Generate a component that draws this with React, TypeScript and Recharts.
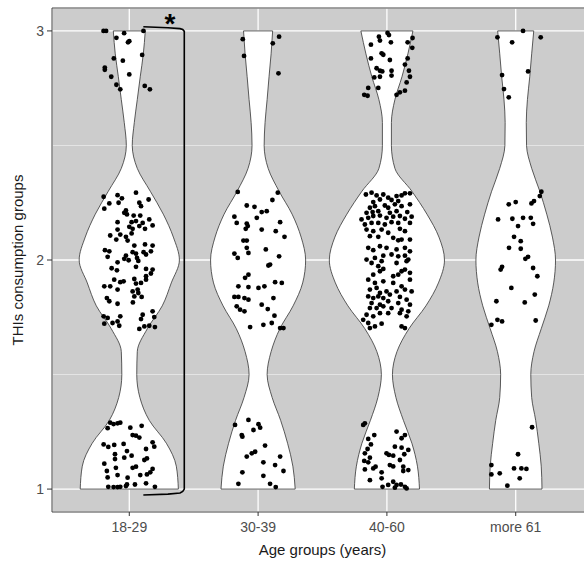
import React from 'react';
import {
  ComposedChart,
  Area,
  Scatter,
  XAxis,
  YAxis,
  CartesianGrid,
  ReferenceLine,
  ReferenceDot,
} from 'recharts';

const FONT = '"Liberation Sans", Arial, sans-serif';

// age groups on the x axis (positions 1..4)
const groups = ['18-29', '30-39', '40-60', 'more 61'];
const yTicks = [1, 2, 3];
const yMinor = [1.5, 2.5];

// y levels where the violin half-widths were read (x-axis units)
const levels = [1.0, 1.1, 1.2, 1.3, 1.4, 1.5, 1.6, 1.7, 1.8, 1.9, 2.0, 2.1, 2.2, 2.3, 2.4, 2.5, 2.6, 2.7, 2.8, 2.9, 3.0];
const width1829 = [0.381, 0.365, 0.288, 0.155, 0.082, 0.058, 0.062, 0.14, 0.256, 0.326, 0.389, 0.342, 0.264, 0.163, 0.062, 0.023, 0.039, 0.062, 0.085, 0.109, 0.124];
const width3039 = [0.288, 0.27, 0.229, 0.175, 0.109, 0.07, 0.101, 0.169, 0.272, 0.346, 0.369, 0.334, 0.264, 0.163, 0.078, 0.047, 0.054, 0.07, 0.085, 0.101, 0.113];
const width4060 = [0.253, 0.237, 0.194, 0.128, 0.07, 0.043, 0.078, 0.171, 0.303, 0.4, 0.447, 0.404, 0.311, 0.194, 0.062, 0.035, 0.035, 0.062, 0.117, 0.163, 0.202];
const width61 = [0.204, 0.198, 0.179, 0.155, 0.124, 0.117, 0.142, 0.198, 0.256, 0.295, 0.309, 0.285, 0.241, 0.187, 0.124, 0.084, 0.082, 0.091, 0.109, 0.124, 0.14];

// jittered observations: [x offset from group centre, THIs group value]
const obs1829 = [
  [-0.2, 3.0], [-0.18, 3.0], [-0.1, 2.97], [-0.04, 2.99], [0.11, 3.0], [-0.01, 2.95], [0.0, 2.955], [0.1, 2.895], [-0.12, 2.88],
  [-0.05, 2.87], [-0.19, 2.84], [-0.19, 2.83], [-0.14, 2.8], [0.0, 2.81], [-0.1, 2.765], [-0.07, 2.745], [0.12, 2.76], [0.16, 2.745],
  [0.052, 2.294], [-0.091, 2.283], [-0.057, 2.269], [-0.199, 2.276], [0.15, 2.264], [-0.155, 2.247], [-0.083, 2.25], [0.078, 2.25],
  [0.091, 2.235], [-0.194, 2.224], [-0.026, 2.216], [-0.039, 2.206], [-0.018, 2.199], [0.034, 2.194], [0.085, 2.194], [-0.091, 2.165],
  [0.018, 2.165], [0.052, 2.17], [0.104, 2.162], [0.155, 2.177], [0.078, 2.148], [0.122, 2.136], [0.181, 2.151], [-0.091, 2.133],
  [0.0, 2.145], [0.026, 2.136], [-0.148, 2.107], [-0.07, 2.111], [-0.101, 2.089], [-0.026, 2.101], [0.018, 2.116], [-0.013, 2.085],
  [0.122, 2.068], [0.181, 2.063], [0.039, 2.063], [-0.189, 2.043], [-0.155, 2.038], [0.168, 2.038], [0.111, 2.034], [0.13, 2.024],
  [-0.168, 2.014], [0.026, 2.034], [0.052, 2.028], [-0.026, 2.019], [-0.039, 2.005], [-0.005, 1.999], [0.06, 2.009], [0.07, 1.996],
  [-0.091, 1.99], [-0.137, 1.964], [-0.096, 1.955], [0.052, 1.97], [0.13, 1.961], [0.181, 1.958], [0.168, 1.941], [0.13, 1.929],
  [0.039, 1.917], [0.13, 1.914], [-0.117, 1.914], [-0.07, 1.903], [-0.044, 1.907], [-0.194, 1.885], [-0.148, 1.885], [-0.091, 1.871],
  [0.052, 1.897], [0.091, 1.9], [0.026, 1.863], [0.065, 1.871], [0.07, 1.856], [0.039, 1.841], [0.096, 1.839], [-0.174, 1.834],
  [-0.155, 1.82], [-0.091, 1.809], [0.028, 1.815], [-0.199, 1.754], [-0.168, 1.747], [-0.07, 1.754], [-0.091, 1.732], [-0.13, 1.725],
  [-0.194, 1.722], [-0.078, 1.713], [0.104, 1.761], [0.091, 1.742], [0.181, 1.776], [0.194, 1.751], [0.117, 1.71], [0.078, 1.699],
  [0.155, 1.713], [0.199, 1.707],
  [-0.148, 1.29], [-0.122, 1.284], [-0.091, 1.287], [-0.07, 1.29], [-0.168, 1.266], [0.008, 1.268], [0.096, 1.276], [0.026, 1.236],
  [0.052, 1.233], [0.078, 1.225], [-0.199, 1.195], [-0.163, 1.184], [-0.117, 1.193], [-0.044, 1.197], [0.181, 1.204], [0.194, 1.185],
  [-0.018, 1.166], [-0.111, 1.152], [-0.111, 1.131], [-0.039, 1.137], [0.018, 1.146], [0.13, 1.175], [0.117, 1.127], [0.137, 1.134],
  [-0.194, 1.111], [-0.104, 1.093], [0.026, 1.093], [0.052, 1.098], [0.181, 1.088], [0.163, 1.073], [-0.174, 1.079], [-0.091, 1.061],
  [-0.013, 1.05], [0.085, 1.061], [0.137, 1.064], [-0.168, 1.051], [0.13, 1.025], [-0.163, 1.01], [-0.122, 1.009], [-0.091, 1.009],
  [-0.07, 1.01], [-0.018, 1.02], [0.044, 1.02], [0.199, 1.01], [-0.026, 1.013],
];
const obs3039 = [
  [-0.119, 2.964], [0.163, 2.975], [0.114, 2.946], [-0.109, 2.891], [0.158, 2.815],
  [-0.158, 2.297], [0.153, 2.294], [0.111, 2.262], [-0.088, 2.238], [-0.028, 2.232], [0.067, 2.213], [0.028, 2.209], [-0.184, 2.189],
  [-0.01, 2.184], [-0.166, 2.162], [-0.088, 2.159], [-0.08, 2.148], [-0.096, 2.136], [0.171, 2.165], [0.028, 2.133], [0.137, 2.126],
  [0.205, 2.101], [-0.114, 2.085], [-0.088, 2.085], [-0.088, 2.053], [-0.075, 2.031], [0.06, 2.046], [-0.184, 2.028], [-0.158, 2.009],
  [0.163, 2.016], [0.08, 1.976], [0.093, 1.98], [-0.075, 1.936], [-0.101, 1.922], [-0.153, 1.885], [-0.075, 1.882], [0.003, 1.878],
  [0.049, 1.885], [0.132, 1.903], [0.184, 1.9], [-0.184, 1.839], [-0.153, 1.839], [-0.106, 1.834], [-0.075, 1.827], [-0.166, 1.798],
  [-0.14, 1.783], [-0.106, 1.776], [0.028, 1.805], [0.119, 1.834], [0.075, 1.786], [0.127, 1.757], [-0.062, 1.707], [0.041, 1.717],
  [0.106, 1.725], [0.171, 1.703], [0.197, 1.703],
  [-0.179, 1.28], [-0.075, 1.302], [0.003, 1.283], [0.016, 1.268], [-0.036, 1.258], [-0.127, 1.236], [-0.122, 1.229], [0.054, 1.19],
  [-0.023, 1.163], [-0.049, 1.156], [-0.088, 1.142], [0.171, 1.142], [0.132, 1.105], [0.041, 1.117], [0.197, 1.079], [-0.122, 1.073],
  [0.041, 1.058], [-0.153, 1.023], [0.093, 1.023], [0.137, 1.009],
];
const obs4060 = [
  [0.005, 2.991], [0.016, 2.982], [-0.062, 2.975], [-0.054, 2.958], [0.031, 2.95], [-0.124, 2.94], [0.161, 2.95], [0.199, 2.969],
  [0.197, 2.926], [-0.041, 2.902], [-0.028, 2.896], [-0.124, 2.88], [0.023, 2.873], [0.161, 2.88], [-0.08, 2.837], [-0.054, 2.826],
  [-0.036, 2.823], [0.036, 2.826], [0.036, 2.805], [-0.098, 2.797], [-0.054, 2.8], [0.14, 2.853], [0.171, 2.826], [0.179, 2.8],
  [0.153, 2.775], [-0.145, 2.751], [-0.067, 2.751], [0.14, 2.739], [0.101, 2.732], [0.075, 2.721], [-0.176, 2.721], [-0.15, 2.717],
  [-0.163, 2.286], [-0.119, 2.294], [-0.08, 2.282], [-0.028, 2.286], [0.01, 2.272], [0.075, 2.279], [0.114, 2.282], [0.14, 2.291],
  [0.179, 2.291], [-0.106, 2.253], [-0.054, 2.264], [0.036, 2.262], [0.088, 2.257], [-0.132, 2.228], [-0.093, 2.235], [-0.016, 2.238],
  [0.01, 2.228], [0.062, 2.243], [0.114, 2.235], [0.179, 2.243], [-0.158, 2.206], [-0.111, 2.209], [-0.067, 2.213], [0.023, 2.206],
  [0.075, 2.213], [0.158, 2.209], [-0.197, 2.177], [-0.145, 2.184], [-0.106, 2.192], [-0.054, 2.194], [-0.003, 2.184], [0.049, 2.189],
  [0.101, 2.192], [0.14, 2.18], [-0.171, 2.155], [-0.119, 2.162], [-0.067, 2.162], [-0.016, 2.155], [0.036, 2.165], [0.088, 2.162],
  [0.179, 2.162], [0.192, 2.189], [-0.158, 2.133], [-0.106, 2.126], [-0.041, 2.133], [0.01, 2.119], [0.101, 2.136], [0.14, 2.126],
  [-0.132, 2.104], [-0.067, 2.101], [0.049, 2.097], [0.088, 2.086], [0.114, 2.089], [0.179, 2.089], [-0.145, 2.053], [-0.106, 2.043],
  [-0.054, 2.06], [-0.003, 2.053], [0.075, 2.046], [0.14, 2.053], [0.179, 2.038], [-0.158, 2.002], [-0.093, 2.009], [-0.028, 2.019],
  [0.036, 2.024], [0.088, 2.016], [0.14, 2.019], [0.166, 2.002], [-0.119, 1.987], [-0.067, 1.973], [-0.041, 1.995], [0.075, 1.987],
  [0.153, 1.995], [0.114, 1.951], [0.179, 1.944], [-0.106, 1.936], [-0.054, 1.951], [-0.028, 1.961], [0.049, 1.929], [0.088, 1.936],
  [0.14, 1.958], [-0.145, 1.914], [-0.093, 1.9], [-0.028, 1.907], [0.049, 1.9], [0.114, 1.885], [0.179, 1.914], [-0.132, 1.871],
  [-0.08, 1.878], [-0.054, 1.856], [-0.003, 1.863], [0.075, 1.863], [0.14, 1.871], [0.192, 1.863], [-0.145, 1.841], [-0.106, 1.834],
  [-0.067, 1.841], [-0.028, 1.834], [0.023, 1.849], [0.101, 1.839], [0.153, 1.827], [-0.119, 1.812], [-0.054, 1.805], [0.01, 1.82],
  [0.088, 1.812], [0.179, 1.805], [-0.132, 1.79], [-0.08, 1.79], [-0.028, 1.798], [0.036, 1.79], [0.114, 1.783], [0.166, 1.776],
  [-0.158, 1.761], [-0.106, 1.754], [-0.054, 1.768], [0.01, 1.768], [0.101, 1.768], [0.153, 1.754], [-0.184, 1.739], [-0.145, 1.725],
  [-0.093, 1.71], [-0.041, 1.722], [0.114, 1.71], [0.14, 1.703], [-0.132, 1.703],
  [-0.184, 1.28], [-0.171, 1.287], [-0.098, 1.236], [-0.145, 1.219], [-0.124, 1.195], [-0.15, 1.175], [0.075, 1.251], [0.14, 1.236],
  [0.114, 1.222], [-0.171, 1.156], [-0.132, 1.137], [-0.176, 1.123], [-0.145, 1.117], [-0.088, 1.098], [-0.106, 1.09], [-0.003, 1.156],
  [0.016, 1.149], [0.049, 1.146], [0.062, 1.185], [0.114, 1.181], [0.166, 1.171], [0.135, 1.152], [0.101, 1.127], [0.023, 1.105],
  [0.049, 1.099], [0.127, 1.098], [0.166, 1.083], [0.127, 1.079], [-0.171, 1.086], [-0.041, 1.073], [-0.132, 1.039], [-0.041, 1.047],
  [0.049, 1.032], [0.075, 1.018], [0.109, 1.02], [0.14, 1.01], [0.153, 1.003], [-0.034, 1.01], [0.062, 1.006], [0.01, 1.018],
];
const obs61 = [
  [0.057, 3.0], [-0.142, 2.972], [0.194, 2.972], [-0.028, 2.95], [-0.106, 2.807], [0.096, 2.823], [-0.091, 2.746], [-0.054, 2.71],
  [0.199, 2.298], [0.187, 2.279], [0.142, 2.257], [0.122, 2.247], [-0.054, 2.243], [0.0, 2.253], [-0.137, 2.177], [-0.026, 2.18],
  [0.057, 2.184], [0.117, 2.184], [0.135, 2.158], [0.018, 2.148], [-0.013, 2.101], [0.039, 2.082], [-0.052, 2.053], [0.039, 2.049],
  [0.096, 2.014], [0.075, 2.005], [-0.106, 1.97], [-0.117, 1.958], [0.135, 1.965], [0.168, 1.929], [-0.034, 1.878], [0.148, 1.849],
  [-0.15, 1.82], [0.07, 1.815], [-0.189, 1.717], [-0.142, 1.739], [-0.106, 1.732], [0.155, 1.736],
  [0.127, 1.27], [0.018, 1.152], [-0.189, 1.105], [-0.189, 1.064], [-0.124, 1.069], [-0.013, 1.09], [0.044, 1.09], [0.083, 1.088],
  [0.031, 1.047], [-0.065, 1.015],
];

// significance bracket beside 18-29 and its asterisk
const bracket = [
  { x: 1.109, v: 3.018 }, { x: 1.3, v: 3.014 }, { x: 1.394, v: 3.01 }, { x: 1.415, v: 3.006 }, { x: 1.427, v: 2.998 },
  { x: 1.427, v: 1.0 }, { x: 1.415, v: 0.99 }, { x: 1.394, v: 0.983 }, { x: 1.3, v: 0.978 }, { x: 1.109, v: 0.974 },
];
const star = { x: 1.316, v: 2.99 };

const widths = [width1829, width3039, width4060, width61];
const observations = [obs1829, obs3039, obs4060, obs61];

const violinRows = levels.map((v, i) => {
  const row: Record<string, unknown> = { v };
  widths.forEach((w, g) => {
    row[`g${g}`] = [g + 1 - w[i], g + 1 + w[i]];
  });
  return row;
});

const dots = observations.flatMap((list, g) => list.map(([dx, v]) => ({ x: g + 1 + dx, v })));

const Dot = (p: any) => <circle cx={p.cx} cy={p.cy} r={2.4} fill="#000" />;
const NoDot = () => <g />;

export default function App() {
  const last = levels.length - 1;
  return (
    <div style={{ position: 'absolute', left: 0, top: 0, width: 584, height: 563, overflow: 'hidden', background: '#fff' }}>
      <ComposedChart
        width={593}
        height={563}
        layout="vertical"
        data={violinRows}
        margin={{ top: 8, right: 0, bottom: 0, left: 0 }}
        style={{ fontFamily: FONT }}
      >
        <CartesianGrid fill="#CCCCCC" stroke="#FFFFFF" strokeWidth={1.3} />
        <CartesianGrid horizontalValues={yMinor} vertical={false} stroke="#F0F0F0" strokeWidth={0.7} />
        <XAxis
          type="number"
          domain={[0.4, 4.6]}
          allowDataOverflow
          ticks={[1, 2, 3, 4]}
          tickFormatter={(t: number) => groups[t - 1]}
          height={51}
          tickSize={4}
          tickMargin={6}
          tick={{ fill: '#4D4D4D', fontSize: 14, fontFamily: FONT }}
          axisLine={{ stroke: '#444' }}
          tickLine={{ stroke: '#333' }}
          label={{ value: 'Age groups (years)', position: 'insideBottom', offset: 8, fill: '#1A1A1A', fontSize: 15, fontFamily: FONT }}
        />
        <YAxis
          type="number"
          dataKey="v"
          domain={[0.9, 3.1]}
          allowDataOverflow
          reversed
          ticks={yTicks}
          width={52}
          tickSize={5}
          tickMargin={3}
          tick={{ fill: '#4D4D4D', fontSize: 14, fontFamily: FONT }}
          axisLine={{ stroke: '#444' }}
          tickLine={{ stroke: '#333' }}
          label={{
            value: 'THIs consumption groups',
            angle: -90,
            position: 'insideLeft',
            offset: 18,
            fill: '#1A1A1A',
            fontSize: 15,
            fontFamily: FONT,
            style: { textAnchor: 'middle' },
          }}
        />
        <ReferenceLine y={3.1} stroke="#444" strokeWidth={1} />
        {widths.map((w, g) => (
          <Area
            key={`v${g}`}
            dataKey={`g${g}`}
            type="monotone"
            stroke="#333"
            strokeWidth={0.8}
            fill="#FFFFFF"
            fillOpacity={1}
            dot={false}
            activeDot={false}
            isAnimationActive={false}
          />
        ))}
        {widths.map((w, g) => (
          <ReferenceLine
            key={`b${g}`}
            segment={[{ x: g + 1 - w[0], y: levels[0] }, { x: g + 1 + w[0], y: levels[0] }]}
            stroke="#333"
            strokeWidth={0.8}
          />
        ))}
        {widths.map((w, g) => (
          <ReferenceLine
            key={`t${g}`}
            segment={[{ x: g + 1 - w[last], y: levels[last] }, { x: g + 1 + w[last], y: levels[last] }]}
            stroke="#333"
            strokeWidth={0.8}
          />
        ))}
        <Scatter data={dots} dataKey="x" shape={Dot} isAnimationActive={false} />
        <Scatter
          data={bracket}
          dataKey="x"
          shape={NoDot}
          line={{ stroke: '#000', strokeWidth: 1.6 }}
          lineType="joint"
          isAnimationActive={false}
        />
        <ReferenceDot
          x={star.x}
          y={star.v}
          r={0}
          ifOverflow="visible"
          shape={(p: any) => (
            <text x={p.cx} y={p.cy} textAnchor="middle" fontSize={28} fontWeight="bold" fontFamily={FONT} fill="#000">
              *
            </text>
          )}
        />
      </ComposedChart>
    </div>
  );
}
